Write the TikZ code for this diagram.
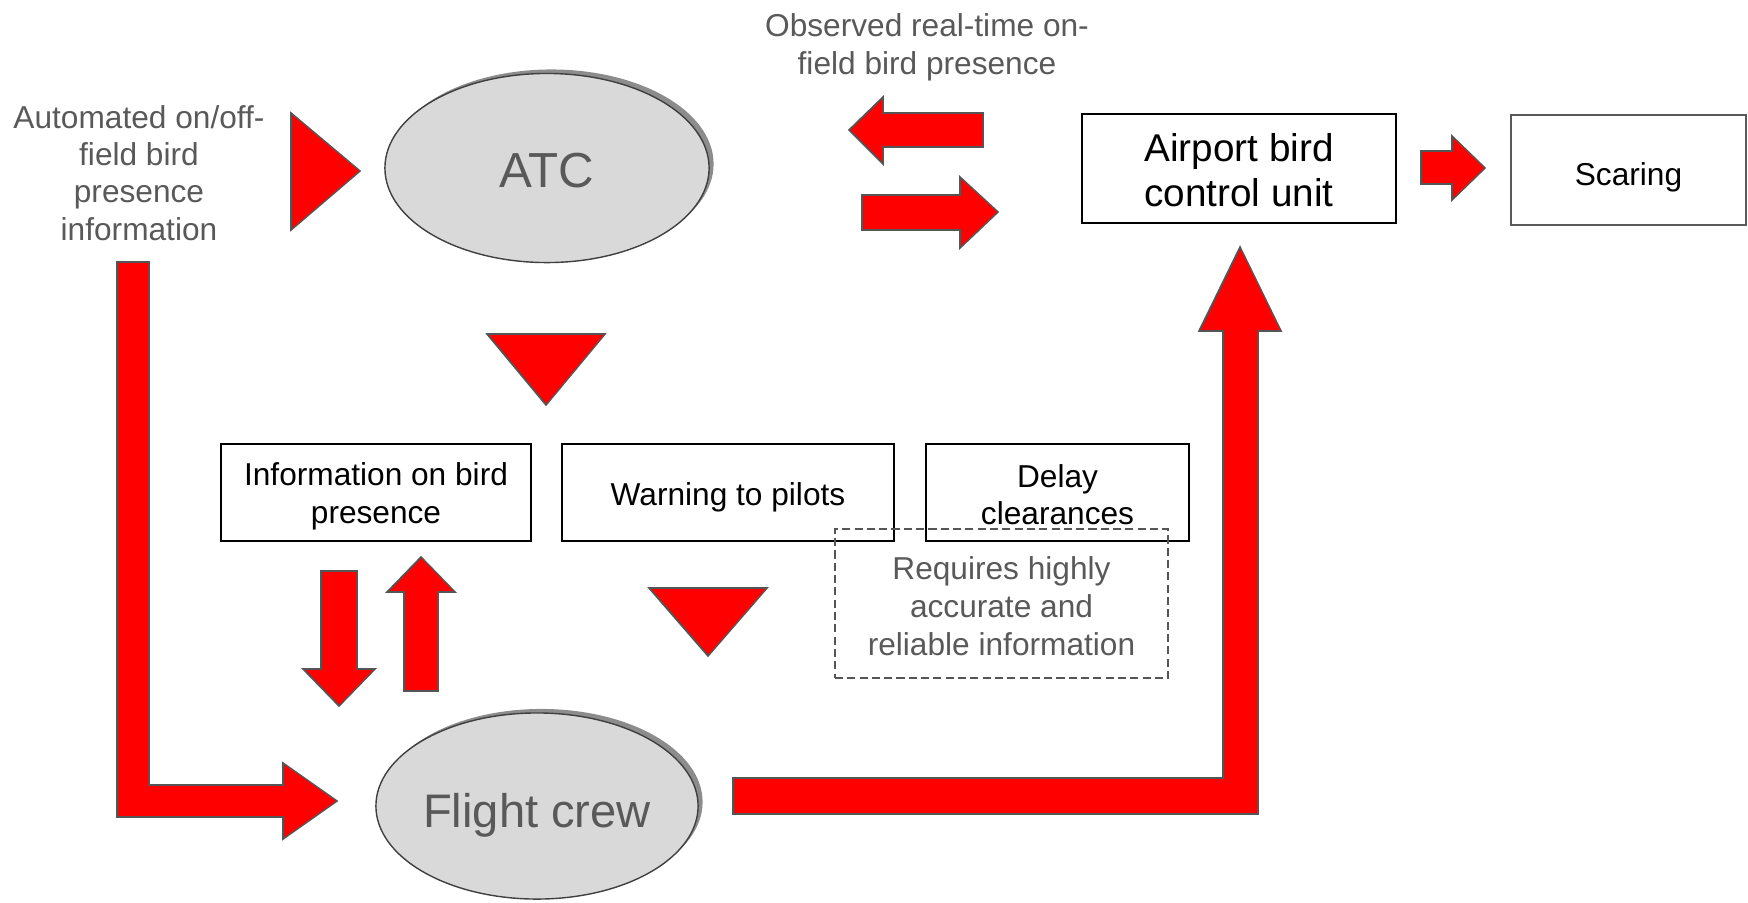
\documentclass[tikz,border=0pt]{standalone}
\usepackage{fontspec}
\setmainfont{Liberation Sans}
\usetikzlibrary{shapes.geometric,shadows}
\definecolor{labelgray}{HTML}{595959}
\definecolor{edgegray}{HTML}{555555}
\definecolor{ovalfill}{HTML}{D9D9D9}
\definecolor{shadowgray}{HTML}{8C8C8C}

% Centred lines whose box is H tall and ends at the last baseline,
% so that the last baseline sits H/2 below the node centre.
\newcommand\stackedtext[2]{\raisebox{0pt}[#1][0pt]{\begin{tabular}[b]{@{}c@{}}#2\end{tabular}}}

\begin{document}
\begin{tikzpicture}[x=0.01cm,y=-0.01cm,
  blockarrow/.style={fill=red, draw=edgegray, line width=0.45pt, line join=miter},
  actor/.style={ellipse, draw=black!75, line width=0.4pt, fill=ovalfill, text=labelgray,
    inner sep=0pt, font=\fontsize{13.4}{16}\selectfont,
    general shadow={shadow xshift=0.045cm, shadow yshift=0.04cm, fill=shadowgray}},
  taskbox/.style={draw=black, line width=0.6pt, inner sep=0pt,
    minimum height=0.97cm, font=\fontsize{9}{10.8}\selectfont},
  note/.style={text=labelgray, inner sep=0pt, font=\fontsize{9}{10.95}\selectfont}
]
\useasboundingbox (0,0) rectangle (1748,902);

% actors
\node[actor, minimum width=3.24cm, minimum height=1.89cm, font=\fontsize{14}{16}\selectfont]
  (atc) at (547,168) {\stackedtext{0.38cm}{ATC}};
\node[actor, minimum width=3.22cm, minimum height=1.86cm]
  (crew) at (537,806) {\stackedtext{0.42cm}{Flight crew}};

% actions of ATC
\node[taskbox, minimum width=3.10cm] (info) at (376,492.5)
  {\stackedtext{0.61cm}{Information on bird\\presence}};
\node[taskbox, minimum width=3.32cm] (warn) at (728,492.5)
  {\stackedtext{0.25cm}{Warning to pilots}};
\node[taskbox, minimum width=2.63cm, font=\fontsize{9}{10.5}\selectfont] (delay) at (1057.5,492.5)
  {\stackedtext{0.63cm}{Delay\\clearances}};
\node[note, draw=edgegray, line width=0.4pt, dash pattern=on 2.3pt off 1.2pt,
      minimum width=3.33cm, minimum height=1.49cm, font=\fontsize{9}{10.8}\selectfont]
  (req) at (1001.5,603.5)
  {\stackedtext{1.03cm}{Requires highly\\accurate and\\reliable information}};

% bird control
\node[taskbox, minimum width=3.14cm, minimum height=1.09cm,
      font=\fontsize{11}{12.66}\selectfont] (unit) at (1239,168.5)
  {\stackedtext{0.75cm}{Airport bird\\control unit}};
\node[taskbox, draw=black!65, minimum width=2.35cm, minimum height=1.10cm] (scare) at (1628.5,170)
  {\stackedtext{0.30cm}{Scaring}};

% information sources
\node[note, font=\fontsize{9}{10.6}\selectfont] (auto) at (139,171)
  {\stackedtext{1.38cm}{Automated on/off-\\field bird\\presence\\information}};
\node[note] (obs) at (927,45)
  {\stackedtext{0.59cm}{Observed real-time on-\\field bird presence}};

% block arrows
\draw[blockarrow] (291,113) -- (360,171) -- (291,230) -- cycle;
\draw[blockarrow] (487,334) -- (605,334) -- (546,405) -- cycle;
\draw[blockarrow] (983,113) -- (883,113) -- (883,97) -- (849,130) -- (883,164) -- (883,147) -- (983,147) -- cycle;
\draw[blockarrow] (862,195) -- (960,195) -- (960,177) -- (998,212) -- (960,248) -- (960,230) -- (862,230) -- cycle;
\draw[blockarrow] (1421,151) -- (1452,151) -- (1452,136) -- (1485,168) -- (1452,200) -- (1452,184) -- (1421,184) -- cycle;
\draw[blockarrow] (117,262) -- (149,262) -- (149,785) -- (283,785) -- (283,763) -- (337,801)
  -- (283,839) -- (283,817) -- (117,817) -- cycle;
\draw[blockarrow] (733,778) -- (1223,778) -- (1223,331) -- (1199,331) -- (1240,247) -- (1281,331)
  -- (1258,331) -- (1258,814) -- (733,814) -- cycle;
\draw[blockarrow] (321,571) -- (357,571) -- (357,669) -- (375,669) -- (339,706) -- (303,669) -- (321,669) -- cycle;
\draw[blockarrow] (404,691) -- (404,592) -- (387,592) -- (421,557) -- (455,592) -- (438,592) -- (438,691) -- cycle;
\draw[blockarrow] (649,588) -- (767,588) -- (708,656) -- cycle;
\end{tikzpicture}
\end{document}
